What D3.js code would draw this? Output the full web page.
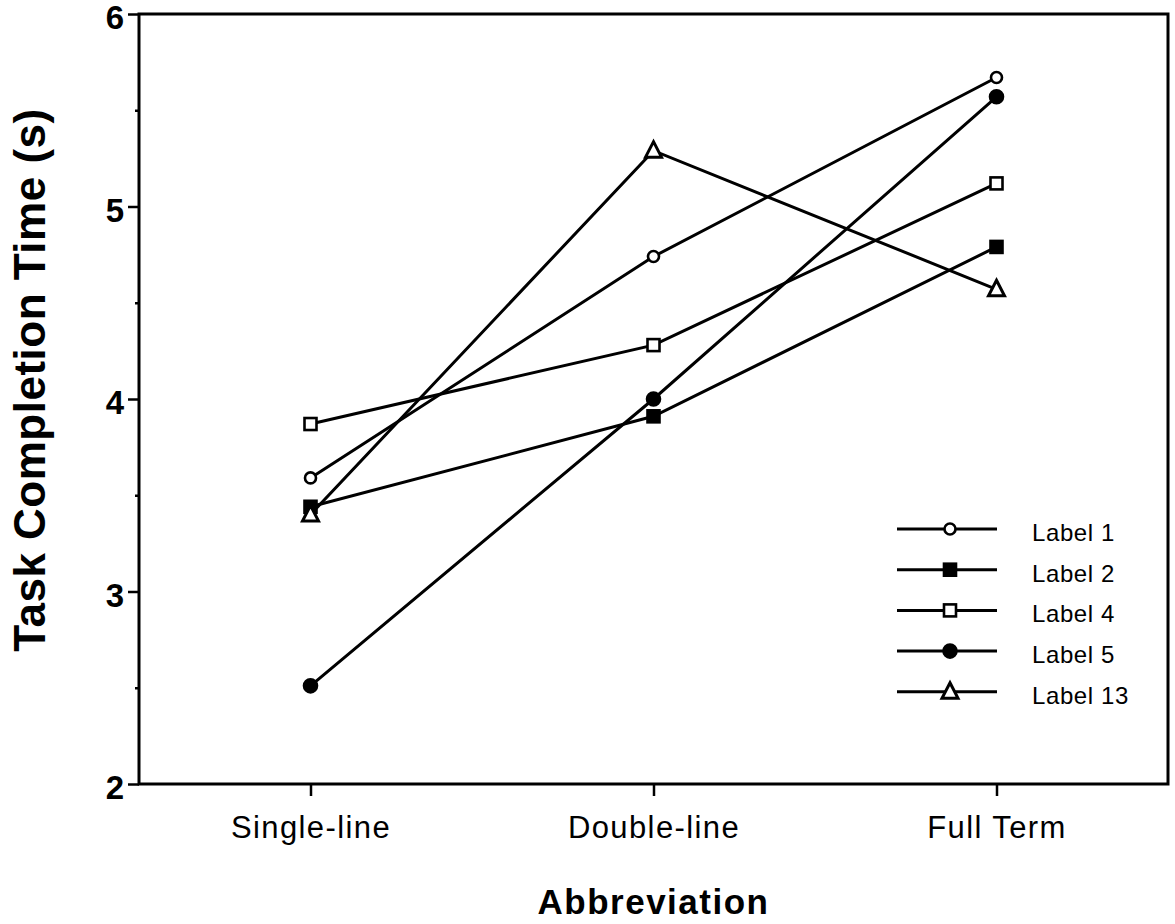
<!DOCTYPE html>
<html>
<head>
<meta charset="utf-8">
<script src="https://cdn.jsdelivr.net/npm/d3@7"></script>
<style>
  html, body { margin: 0; padding: 0; background: #fff; }
  svg { display: block; font-family: "Liberation Sans", Arial, Helvetica, sans-serif; }
</style>
</head>
<body>
<svg id="chart" width="1175" height="924"></svg>
<script>
// Abbreviation conditions on the x axis
const categories = ["Single-line", "Double-line", "Full Term"];

// Mean task completion time (s) per label, one value per condition
const seriesNames = ["Label 1", "Label 2", "Label 4", "Label 5", "Label 13"];
const label1 = [3.59, 4.74, 5.67];
const label2 = [3.44, 3.91, 4.79];
const label4 = [3.87, 4.28, 5.12];
const label5 = [2.51, 4.00, 5.57];
const label13 = [3.40, 5.29, 4.57];
const markerKinds = ["circleOpen", "squareFilled", "squareOpen", "circleFilled", "triangleOpen"];

const yTicks = [2, 3, 4, 5, 6];
const yMinorTicks = [2.5, 3.5, 4.5, 5.5];

const series = [label1, label2, label4, label5, label13].map((values, i) => ({
  name: seriesNames[i], values, marker: markerKinds[i]
}));

const svg = d3.select("#chart");
const margin = { left: 139, top: 14, right: 1175 - 1168, bottom: 924 - 784 };
const W = 1175 - margin.left - margin.right;
const H = 924 - margin.top - margin.bottom;

const g = svg.append("g").attr("transform", `translate(${margin.left},${margin.top})`);

const x = d3.scalePoint().domain(categories).range([0, W]).padding(0.5);
const y = d3.scaleLinear().domain([2, 6]).range([H, 0]);

// Frame
g.append("rect").attr("x", 0).attr("y", 0).attr("width", W).attr("height", H)
  .attr("fill", "none").attr("stroke", "#000").attr("stroke-width", 3);

// Y axis: major ticks with labels, small half-unit ticks
const yMinor = g.append("g").call(d3.axisLeft(y).tickValues(yMinorTicks).tickSize(4).tickFormat(""));
yMinor.select(".domain").remove();
yMinor.selectAll(".tick line").attr("stroke", "#000").attr("stroke-width", 2.5);

const yAxis = g.append("g").call(d3.axisLeft(y).tickValues(yTicks).tickFormat(d3.format("d")).tickSize(11).tickPadding(4));
yAxis.select(".domain").remove();
yAxis.selectAll(".tick line").attr("stroke", "#000").attr("stroke-width", 2.5);
yAxis.selectAll(".tick text").attr("fill", "#000")
  .attr("dy", "0.45em")
  .style("font-size", "33px").style("font-weight", "bold");

// X axis
const xAxis = g.append("g").attr("transform", `translate(0,${H})`)
  .call(d3.axisBottom(x).tickSize(12));
xAxis.select(".domain").remove();
xAxis.selectAll(".tick line").attr("stroke", "#000").attr("stroke-width", 2.5);
xAxis.selectAll(".tick text").attr("fill", "#000")
  .attr("y", 54).attr("dy", 0)
  .style("font-size", "31px").style("letter-spacing", "1.4px");

// Axis titles
svg.append("text")
  .attr("transform", `translate(45,380) rotate(-90)`)
  .attr("text-anchor", "middle")
  .style("font-size", "44px").style("font-weight", "bold")
  .style("letter-spacing", "0.5px")
  .text("Task Completion Time (s)");

svg.append("text")
  .attr("x", margin.left + x("Double-line"))
  .attr("y", 914)
  .attr("text-anchor", "middle")
  .style("font-size", "35px").style("font-weight", "bold")
  .style("letter-spacing", "1.5px")
  .text("Abbreviation");

// Marker drawing
function drawMarker(sel, kind) {
  if (kind === "circleOpen" || kind === "circleFilled") {
    sel.append("circle").attr("r", kind === "circleOpen" ? 5.5 : 6.5)
      .attr("fill", kind === "circleFilled" ? "#000" : "#fff")
      .attr("stroke", "#000").attr("stroke-width", 2.6);
  } else if (kind === "squareOpen" || kind === "squareFilled") {
    sel.append("rect").attr("x", -6).attr("y", -6).attr("width", 12).attr("height", 12)
      .attr("fill", kind === "squareFilled" ? "#000" : "#fff")
      .attr("stroke", "#000").attr("stroke-width", 2.6);
  } else {
    sel.append("path").attr("d", "M0,-9 L8,6.5 L-8,6.5 Z")
      .attr("fill", "#fff").attr("stroke", "#000").attr("stroke-width", 3)
      .attr("stroke-linejoin", "miter");
  }
}

const line = d3.line().x((d, i) => x(categories[i])).y(d => y(d));

// Lines
g.selectAll(".series-line").data(series).join("path")
  .attr("class", "series-line")
  .attr("d", d => line(d.values))
  .attr("fill", "none").attr("stroke", "#000").attr("stroke-width", 3);

// Markers
series.forEach(s => {
  s.values.forEach((v, i) => {
    const m = g.append("g").attr("transform", `translate(${x(categories[i])},${y(v)})`);
    drawMarker(m, s.marker);
  });
});

// Legend
const legend = svg.append("g").attr("transform", "translate(897,529)");
series.forEach((s, i) => {
  const row = legend.append("g").attr("transform", `translate(0,${i * 40.7})`);
  row.append("line").attr("x1", 0).attr("x2", 100).attr("y1", 0).attr("y2", 0)
    .attr("stroke", "#000").attr("stroke-width", 3);
  const m = row.append("g").attr("transform", "translate(53,0)");
  drawMarker(m, s.marker);
  row.append("text").attr("x", 135).attr("y", 12)
    .style("font-size", "24px").style("letter-spacing", "0.6px").text(s.name);
});
</script>
</body>
</html>
